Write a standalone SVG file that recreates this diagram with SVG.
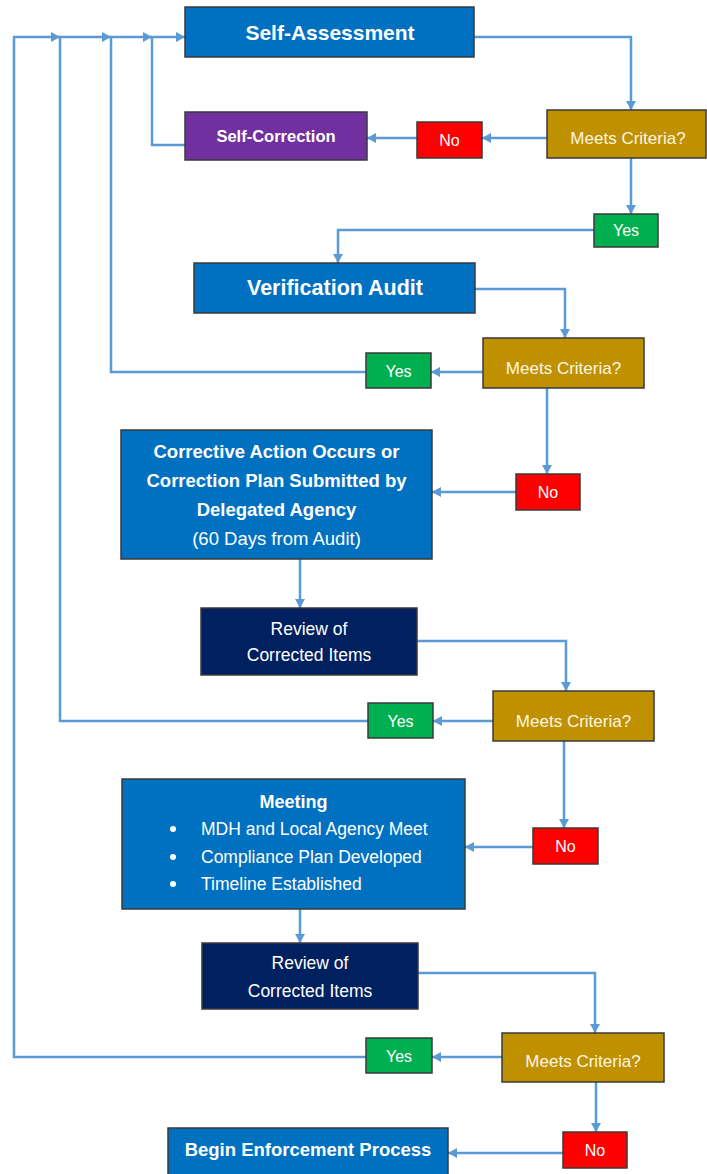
<svg xmlns="http://www.w3.org/2000/svg" width="707" height="1174" viewBox="0 0 707 1174">
<style>
.box{stroke:#3a3a3a;stroke-width:1.5}
.blue{fill:#0070C0}
.navy{fill:#002060}
.purple{fill:#7030A0}
.gold{fill:#BF9000}
.red{fill:#FF0000}
.green{fill:#00B050}
text{font-family:"Liberation Sans",Arial,sans-serif;fill:#ffffff;text-anchor:middle}
.b{font-weight:bold}
.cream{fill:#FFF6E3}
.conn{fill:none;stroke:#5B9BD5;stroke-width:2.5;marker-end:url(#arr)}
</style>
<defs>
<marker id="arr" markerUnits="userSpaceOnUse" markerWidth="10" markerHeight="10" refX="9" refY="5" orient="auto">
<path d="M0,0 L9,5 L0,10 z" fill="#5B9BD5"/>
</marker>
</defs>
<rect width="707" height="1174" fill="#ffffff"/>
<g id="connectors">
<path class="conn" d="M474,37 H631 V110"/>
<path class="conn" d="M547,138 H482"/>
<path class="conn" d="M417,138 H367"/>
<path class="conn" d="M185,145 H152 V37 H185"/>
<path class="conn" d="M631,158 V214"/>
<path class="conn" d="M594,230 H338 V263"/>
<path class="conn" d="M475,289 H565 V338"/>
<path class="conn" d="M483,372 H431"/>
<path class="conn" d="M366,372 H111 V37 H152"/>
<path class="conn" d="M547,388 V474"/>
<path class="conn" d="M516,492 H432"/>
<path class="conn" d="M300,559 V608"/>
<path class="conn" d="M417,641 H566 V691"/>
<path class="conn" d="M493,721 H433"/>
<path class="conn" d="M368,721 H60 V37 H111"/>
<path class="conn" d="M564,741 V828"/>
<path class="conn" d="M533,847 H465"/>
<path class="conn" d="M300,909 V943"/>
<path class="conn" d="M418,973 H595 V1033"/>
<path class="conn" d="M502,1057 H432"/>
<path class="conn" d="M366,1057 H14 V37 H60"/>
<path class="conn" d="M596,1082 V1132"/>
<path class="conn" d="M563,1153 H448"/>
</g>
<g id="self-assessment">
<rect class="box blue" x="185" y="7" width="289" height="50"/>
<text class="b" x="330" y="40" font-size="21">Self-Assessment</text>
</g>
<g id="self-correction">
<rect class="box purple" x="185" y="112" width="182" height="48"/>
<text class="b" x="276" y="142" font-size="16.5">Self-Correction</text>
</g>
<g id="no1">
<rect class="box red" x="417" y="122" width="65" height="36"/>
<text x="449.5" y="146" font-size="16">No</text>
</g>
<g id="meets1">
<rect class="box gold" x="547" y="110" width="159" height="48"/>
<text class="cream" x="628" y="144" font-size="17">Meets Criteria?</text>
</g>
<g id="yes1">
<rect class="box green" x="594" y="214" width="64" height="33"/>
<text x="626" y="236" font-size="16">Yes</text>
</g>
<g id="verification-audit">
<rect class="box blue" x="194" y="263" width="281" height="50"/>
<text class="b" x="335" y="295" font-size="21.5">Verification Audit</text>
</g>
<g id="meets2">
<rect class="box gold" x="483" y="338" width="161" height="50"/>
<text class="cream" x="563.5" y="374" font-size="17">Meets Criteria?</text>
</g>
<g id="yes2">
<rect class="box green" x="366" y="353" width="65" height="35"/>
<text x="398.5" y="377" font-size="16">Yes</text>
</g>
<g id="no2">
<rect class="box red" x="516" y="474" width="64" height="36"/>
<text x="548" y="498" font-size="16">No</text>
</g>
<g id="corrective-action">
<rect class="box blue" x="121" y="430" width="311" height="129"/>
<text class="b" x="276.5" y="458" font-size="18.5">Corrective Action Occurs or</text>
<text class="b" x="276.5" y="487" font-size="18.5">Correction Plan Submitted by</text>
<text class="b" x="276.5" y="516" font-size="18.5">Delegated Agency</text>
<text x="276.5" y="545" font-size="18.5">(60 Days from Audit)</text>
</g>
<g id="review1">
<rect class="box navy" x="201" y="608" width="216" height="67"/>
<text x="309" y="635" font-size="17.5">Review of</text>
<text x="309" y="661" font-size="17.5">Corrected Items</text>
</g>
<g id="meets3">
<rect class="box gold" x="493" y="691" width="161" height="50"/>
<text class="cream" x="573.5" y="727" font-size="17">Meets Criteria?</text>
</g>
<g id="yes3">
<rect class="box green" x="368" y="703" width="65" height="35"/>
<text x="400.5" y="727" font-size="16">Yes</text>
</g>
<g id="no3">
<rect class="box red" x="533" y="828" width="65" height="36"/>
<text x="565.5" y="852" font-size="16">No</text>
</g>
<g id="meeting">
<rect class="box blue" x="122" y="779" width="343" height="130"/>
<text class="b" x="293.5" y="808" font-size="18">Meeting</text>
<circle cx="173" cy="829" r="3" fill="#ffffff"/>
<circle cx="173" cy="857" r="3" fill="#ffffff"/>
<circle cx="173" cy="884" r="3" fill="#ffffff"/>
<text x="201" y="835" font-size="17.5" style="text-anchor:start">MDH and Local Agency Meet</text>
<text x="201" y="863" font-size="17.5" style="text-anchor:start">Compliance Plan Developed</text>
<text x="201" y="890" font-size="17.5" style="text-anchor:start">Timeline Established</text>
</g>
<g id="review2">
<rect class="box navy" x="202" y="943" width="216" height="66"/>
<text x="310" y="969" font-size="17.5">Review of</text>
<text x="310" y="997" font-size="17.5">Corrected Items</text>
</g>
<g id="meets4">
<rect class="box gold" x="502" y="1033" width="162" height="49"/>
<text class="cream" x="583" y="1067" font-size="17">Meets Criteria?</text>
</g>
<g id="yes4">
<rect class="box green" x="366" y="1038" width="66" height="35"/>
<text x="399" y="1062" font-size="16">Yes</text>
</g>
<g id="no4">
<rect class="box red" x="563" y="1132" width="64" height="36"/>
<text x="595" y="1156" font-size="16">No</text>
</g>
<g id="enforcement">
<rect class="box blue" x="168" y="1128" width="280" height="48"/>
<text class="b" x="308" y="1156" font-size="18.5">Begin Enforcement Process</text>
</g>
</svg>
